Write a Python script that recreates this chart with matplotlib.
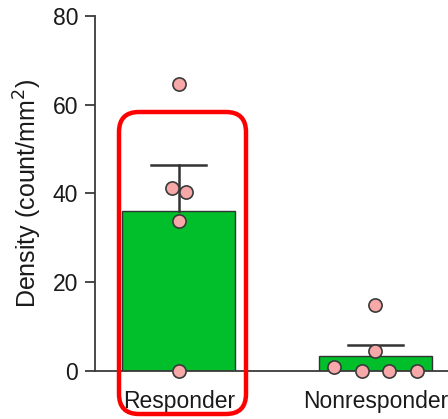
import matplotlib
matplotlib.use('Agg')
import matplotlib.pyplot as plt
import matplotlib.patches as mpatches
from matplotlib.transforms import IdentityTransform
import numpy as np

groups = ['Responder', 'Nonresponder']
responder = [64.7, 41.2, 40.3, 33.8, 0.0]
nonresponder = [14.9, 4.5, 0.8, 0.0, 0.0, 0.0]
# horizontal jitter of each dot, in category units
responder_dx = [0.0, -0.035, 0.035, 0.0, 0.0]
nonresponder_dx = [0.0, 0.0, -0.21, -0.07, 0.07, 0.21]

plt.rcParams['font.family'] = ['Liberation Sans', 'DejaVu Sans']

fig = plt.figure(figsize=(4.48, 4.19), dpi=100)
ax = fig.add_axes([0.212, 0.1146, 0.788, 0.8472])

axis_col = '#3a3a3a'
data = [responder, nonresponder]
dxs = [responder_dx, nonresponder_dx]
for i, (vals, dx) in enumerate(zip(data, dxs)):
    vals = np.array(vals)
    mean = vals.mean()
    sem = vals.std(ddof=1) / np.sqrt(len(vals))
    ax.bar(i, mean, width=0.575, color='#00bf2a', edgecolor='#333333',
           linewidth=1.0, zorder=2)
    ax.plot([i, i], [mean, mean + sem], color='#333333', lw=1.8, zorder=3)
    ax.plot([i - 0.14, i + 0.14], [mean + sem, mean + sem], color='#333333',
            lw=1.8, zorder=3)
    ax.scatter(i + np.array(dx), vals, s=90, color='#f7a8a8',
               edgecolor='#3a3a3a', linewidth=1.2, zorder=4, clip_on=False)

ax.set_xlim(-0.427, 1.37)
ax.set_ylim(0, 80)
ax.set_yticks([0, 20, 40, 60, 80])
ax.set_xticks([0, 1])
ax.set_xticklabels(groups)
ax.tick_params(axis='x', length=0, pad=14, labelsize=16.5, labelcolor='#1a1a1a')
ax.tick_params(axis='y', length=7, width=1.3, color=axis_col, pad=5,
               labelsize=16.5, labelcolor='#1a1a1a')
ax.set_ylabel('Density (count/mm$^2$)', fontsize=18, color='#1a1a1a',
              labelpad=6)
for s in ['top', 'right']:
    ax.spines[s].set_visible(False)
for s in ['left', 'bottom']:
    ax.spines[s].set_color(axis_col)
    ax.spines[s].set_linewidth(1.3)

# red highlight box around the responder bar (pixel coords, origin bottom-left)
box = mpatches.FancyBboxPatch((119, 5), 127, 302,
                              boxstyle='round,pad=0,rounding_size=20',
                              transform=IdentityTransform(), fill=False,
                              edgecolor='#ff0000', linewidth=3.2, zorder=10)
fig.patches.append(box)

fig.savefig('out.png', dpi=100)
